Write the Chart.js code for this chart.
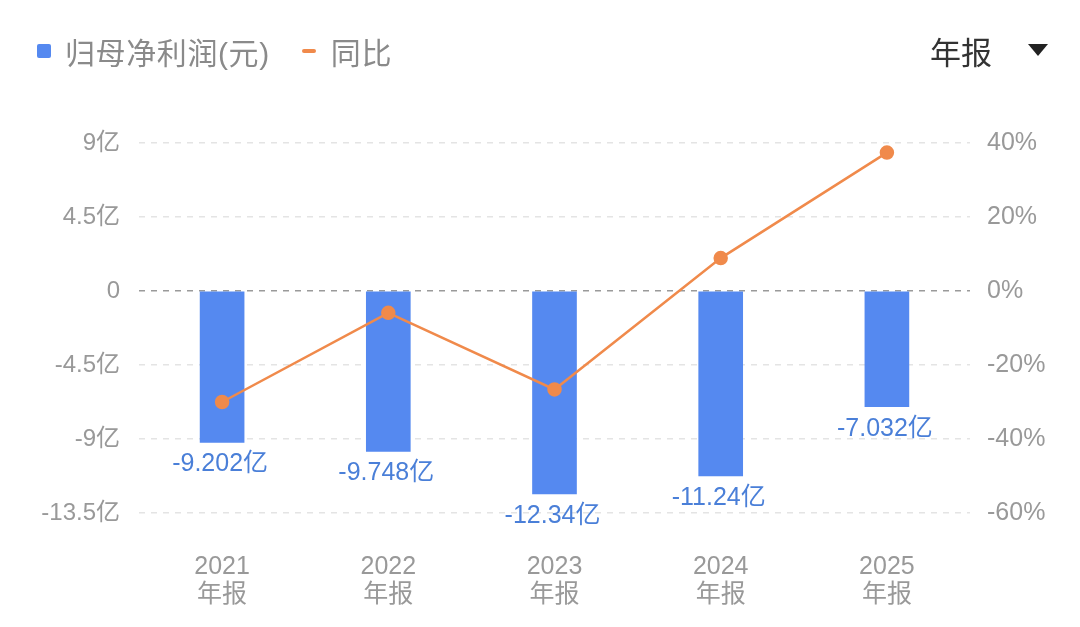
<!DOCTYPE html>
<html>
<head>
<meta charset="utf-8">
<script src="https://cdn.jsdelivr.net/npm/chart.js@4"></script>
<style>
  html, body { margin: 0; padding: 0; background: #fff; }
  body { width: 1080px; height: 627px; position: relative; overflow: hidden;
         font-family: "Liberation Sans", "Noto Sans CJK SC", sans-serif; }
  #wrap { position: absolute; left: 0; top: 0; width: 1080px; height: 627px; }
  .legend { position: absolute; top: 29px; left: 37px; font-size: 30px; color: #8a8a8a;
            letter-spacing: 0.6px; display: flex; align-items: center; }
  .sq { width: 14px; height: 14px; background: #5589f0; border-radius: 2px; margin-right: 14px; }
  .dash { width: 14px; height: 4px; background: #f08a4b; border-radius: 2px; margin: 0 15px 0 32px; }
  .period { position: absolute; top: 28px; left: 930px; font-size: 31px; color: #333; }
  .tri { position: absolute; top: 44px; left: 1028px; width: 0; height: 0;
         border-left: 10px solid transparent; border-right: 10px solid transparent;
         border-top: 12px solid #222; }
</style>
</head>
<body>
<div id="wrap"><canvas id="chart"></canvas></div>
<div class="legend"><span class="sq"></span>归母净利润(元)<span class="dash"></span>同比</div>
<div class="period">年报</div>
<div class="tri"></div>
<script>
const years = ['2021', '2022', '2023', '2024', '2025'];
const profit = [-9.202, -9.748, -12.34, -11.24, -7.032]; // 亿元
const yoy = [-30.0, -5.9, -26.6, 8.9, 37.4]; // %
const leftTicks = [9, 4.5, 0, -4.5, -9, -13.5];
const rightTicks = [40, 20, 0, -20, -40, -60];

const blue = '#5589f0';
const orange = '#f08a4b';
const fontFam = '"Liberation Sans", "Noto Sans CJK SC", sans-serif';

// Beschriftung unter den Balken
const barLabels = {
  id: 'barLabels',
  afterDatasetsDraw(chart) {
    const c = chart.ctx;
    const meta = chart.getDatasetMeta(1); // Balken-Dataset
    c.save();
    c.font = '25px ' + fontFam;
    c.fillStyle = '#4a7fd8';
    c.textAlign = 'center';
    c.textBaseline = 'middle';
    meta.data.forEach((bar, i) => {
      c.fillText(profit[i] + '亿', bar.x - 2, bar.y + 22);
    });
    c.restore();
  }
};

new Chart(document.getElementById('chart'), {
  data: {
    labels: years.map(y => [y, '年报']),
    datasets: [
      {
        type: 'line',
        label: '同比',
        data: yoy,
        yAxisID: 'yR',
        borderColor: orange,
        backgroundColor: orange,
        borderWidth: 2.5,
        pointRadius: 6,
        pointHoverRadius: 6,
        tension: 0,
        clip: false,
        order: 0
      },
      {
        type: 'bar',
        label: '归母净利润(元)',
        data: profit,
        yAxisID: 'yL',
        backgroundColor: blue,
        barThickness: 44,
        order: 1
      }
    ]
  },
  options: {
    responsive: true,
    maintainAspectRatio: false,
    animation: false,
    layout: { padding: { top: 143, left: 0, right: 0, bottom: 0 } },
    scales: {
      x: {
        grid: { display: false },
        border: { display: false },
        ticks: {
          color: '#999',
          font: { size: 25, family: fontFam, lineHeight: 1.12 },
          padding: 32
        },
        afterFit(s) { s.height = 114; }
      },
      yL: {
        position: 'left',
        min: -13.5,
        max: 9,
        afterBuildTicks(s) { s.ticks = leftTicks.map(v => ({ value: v })); },
        ticks: {
          color: '#999',
          font: { size: 24, family: fontFam },
          padding: 19,
          callback: v => v === 0 ? '0' : v + '亿'
        },
        grid: {
          drawTicks: false,
          color: c => c.tick && c.tick.value === 0 ? '#9a9a9a' : '#e4e4e4',
          lineWidth: 1.5
        },
        border: { display: false, dash: [6, 6] },
        afterFit(s) { s.width = 139; }
      },
      yR: {
        position: 'right',
        min: -60,
        max: 40,
        afterBuildTicks(s) { s.ticks = rightTicks.map(v => ({ value: v })); },
        ticks: {
          color: '#999',
          font: { size: 25, family: fontFam },
          padding: 17,
          callback: v => v + '%'
        },
        grid: { display: false, drawTicks: false },
        border: { display: false },
        afterFit(s) { s.width = 110; }
      }
    },
    plugins: {
      legend: { display: false },
      tooltip: { enabled: false }
    }
  },
  plugins: [barLabels]
});
</script>
</body>
</html>
